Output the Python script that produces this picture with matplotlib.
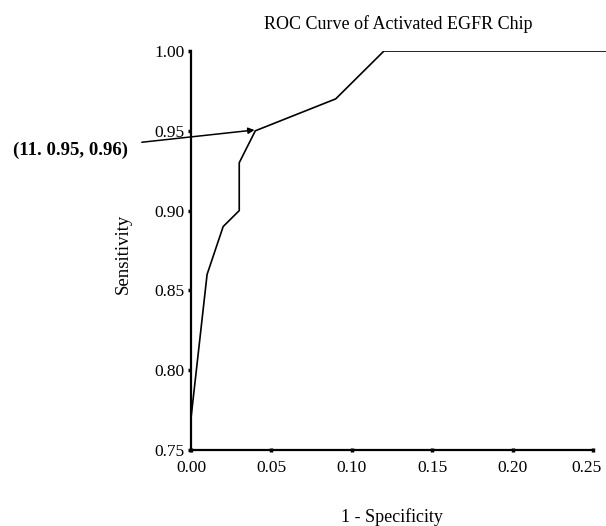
import numpy as np
import matplotlib.pyplot as plt
import matplotlib.transforms as mtransforms

plt.rcParams['font.family'] = ['Liberation Serif', 'DejaVu Serif']

# ROC points
fpr = [0.0, 0.01, 0.02, 0.03, 0.03, 0.04, 0.09, 0.12, 1.0]
tpr = [0.77, 0.86, 0.89, 0.90, 0.93, 0.95, 0.97, 1.00, 1.00]
xticks = [0.00, 0.05, 0.10, 0.15, 0.20, 0.25]
yticks = [0.75, 0.80, 0.85, 0.90, 0.95, 1.00]
note = "(11. 0.95, 0.96)"

W, H = 606, 526
x0, y0, x1, y1 = 191, 450, 606, 51   # axes box in pixels
fig = plt.figure(figsize=(W / 100, H / 100), dpi=100)
ax = fig.add_axes([x0 / W, 1 - y0 / H, (x1 - x0) / W, (y0 - y1) / H])

ax.plot(fpr, tpr, color='black', lw=1.2)
ax.set_xlim(0, 0.25 * 415 / 402)
ax.set_ylim(0.75, 1.0)

for s in ['top', 'right']:
    ax.spines[s].set_visible(False)
ax.spines['left'].set_linewidth(1.6)
ax.spines['bottom'].set_linewidth(1.6)
ax.spines['bottom'].set_bounds(0, 0.25)

ax.set_xticks(xticks)
ax.set_xticklabels([f"{v:.2f}" for v in xticks])
ax.set_yticks(yticks)
ax.set_yticklabels([f"{v:.2f}" for v in yticks])
ax.tick_params(axis='both', direction='out', length=2.5, width=2.5, labelsize=12.5)
ax.tick_params(axis='x', direction='inout', pad=6)
ax.tick_params(axis='y', pad=2)

# last x label sits a little left of its tick, as in the original
fig.canvas.draw()
last = ax.get_xticklabels()[-1]
last.set_transform(last.get_transform() + mtransforms.ScaledTranslation(-6 / 100, 0, fig.dpi_scale_trans))

ax.set_title("ROC Curve of Activated EGFR Chip", fontsize=13, pad=16)
ax.set_xlabel("1 - Specificity", fontsize=13, va='center')
ax.xaxis.set_label_coords((392 - x0) / (x1 - x0), -(517 - y0) / (y0 - y1))
ax.set_ylabel("Sensitivity", fontsize=13.5, va='center')
ax.yaxis.set_label_coords((123 - x0) / (x1 - x0), (y0 - 254) / (y0 - y1))

ax.annotate(note, xy=(0.0395, 0.9505), xycoords='data',
            xytext=(13, 1 - 150 / H), textcoords=('figure pixels', 'figure fraction'),
            fontsize=13.5, fontweight='bold', va='center', ha='left',
            arrowprops=dict(arrowstyle='-|>', color='black', lw=1.1,
                            mutation_scale=9, shrinkA=8, shrinkB=0),
            annotation_clip=False)

fig.savefig("out.png", dpi=100)
